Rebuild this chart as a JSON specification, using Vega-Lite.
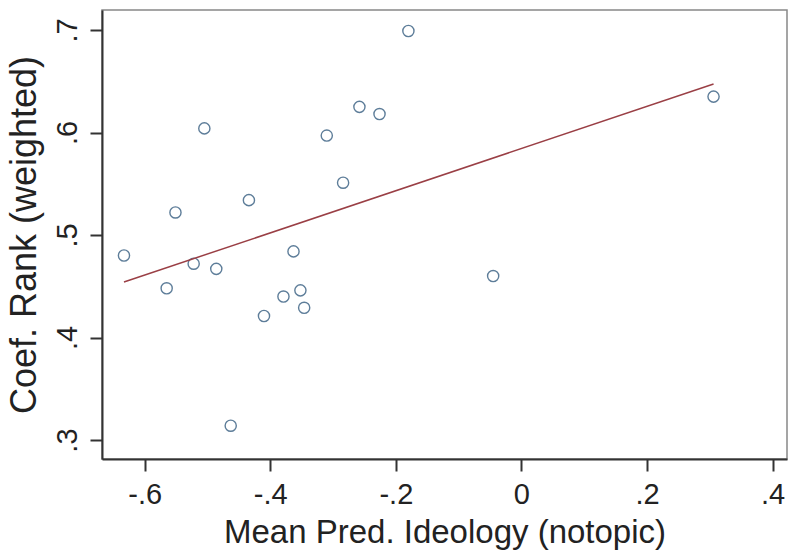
{
  "$schema": "https://vega.github.io/schema/vega-lite/v6.json",
  "width": 685,
  "height": 449,
  "autosize": "none",
  "padding": {"left": 102, "top": 10, "right": 3, "bottom": 96},
  "background": "white",
  "config": {
    "view": {"stroke": "#888", "strokeWidth": 1.5},
    "font": "Liberation Sans",
    "axis": {
      "grid": false,
      "domainColor": "#333",
      "domainWidth": 2,
      "tickColor": "#333",
      "tickWidth": 2,
      "tickSize": 12,
      "labelColor": "#222",
      "titleColor": "#222",
      "labelFont": "Liberation Sans",
      "titleFont": "Liberation Sans",
      "titleFontWeight": "normal",
      "labelFontSize": 29
    }
  },
  "data": {
    "values": [
      {"x": -0.633, "y": 0.480},
      {"x": -0.565, "y": 0.448},
      {"x": -0.551, "y": 0.522},
      {"x": -0.522, "y": 0.472},
      {"x": -0.505, "y": 0.604},
      {"x": -0.486, "y": 0.467},
      {"x": -0.463, "y": 0.314},
      {"x": -0.434, "y": 0.534},
      {"x": -0.410, "y": 0.421},
      {"x": -0.379, "y": 0.440},
      {"x": -0.363, "y": 0.484},
      {"x": -0.352, "y": 0.446},
      {"x": -0.346, "y": 0.429},
      {"x": -0.310, "y": 0.597},
      {"x": -0.284, "y": 0.551},
      {"x": -0.258, "y": 0.625},
      {"x": -0.226, "y": 0.618},
      {"x": -0.180, "y": 0.699},
      {"x": -0.045, "y": 0.460},
      {"x": 0.306, "y": 0.635}
    ]
  },
  "layer": [
    {
      "mark": {"type": "point", "shape": "circle", "filled": false, "color": "#1a476f", "size": 125, "strokeWidth": 1.4},
      "encoding": {
        "x": {
          "field": "x", "type": "quantitative",
          "scale": {"domain": [-0.668, 0.423], "nice": false, "zero": false},
          "axis": {
            "values": [-0.6, -0.4, -0.2, 0, 0.2, 0.4],
            "title": "Mean Pred. Ideology (notopic)",
            "titleFontSize": 33,
            "titlePadding": 7,
            "labelPadding": 9,
            "labelExpr": "datum.value == 0 ? '0' : replace(replace(format(datum.value, '.1f'), '\u2212', '-'), '0.', '.')"
          }
        },
        "y": {
          "field": "y", "type": "quantitative",
          "scale": {"domain": [0.2815, 0.7195], "nice": false, "zero": false},
          "axis": {
            "values": [0.3, 0.4, 0.5, 0.6, 0.7],
            "title": "Coef. Rank (weighted)",
            "titleFontSize": 36,
            "titlePadding": 10,
            "labelAngle": -90,
            "labelAlign": "center",
            "labelBaseline": "bottom",
            "labelPadding": 8,
            "labelExpr": "replace(format(datum.value, '.1f'), '0.', '.')"
          }
        }
      }
    },
    {
      "transform": [{"regression": "y", "on": "x"}],
      "mark": {"type": "line", "color": "#9a3f45", "strokeWidth": 1.5},
      "encoding": {
        "x": {"field": "x", "type": "quantitative"},
        "y": {"field": "y", "type": "quantitative"}
      }
    }
  ]
}
